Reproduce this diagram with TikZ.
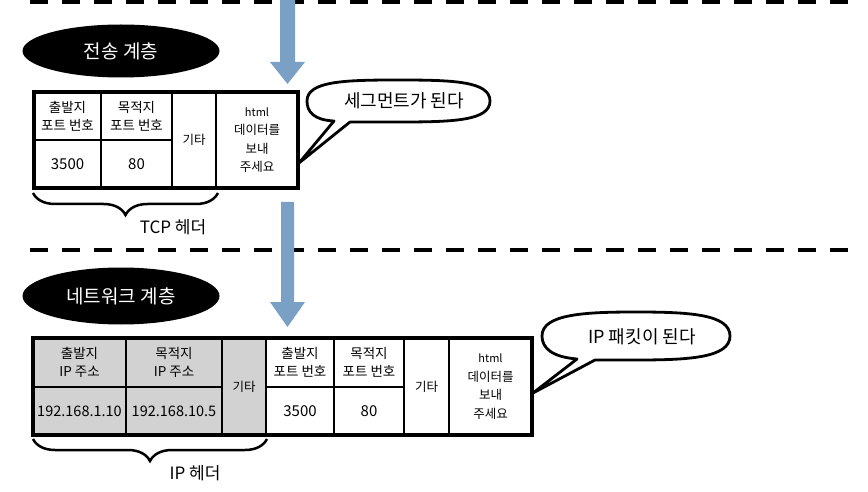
\documentclass[tikz,border=0pt]{standalone}
\usepackage{fontspec}
\setmainfont{Noto Sans CJK KR}
\usetikzlibrary{shapes.geometric,decorations.pathreplacing}
\definecolor{arrowblue}{RGB}{122,160,198}
\definecolor{cellgray}{RGB}{210,210,210}
\newcommand\cellfnt{\fontsize{13.5}{18}\selectfont}
\newcommand\numfnt{\fontsize{15}{18}\selectfont}
\newcommand\ipfnt{\fontsize{14.5}{18}\selectfont}
\newcommand\htmlfnt{\fontsize{12.5}{18.5}\selectfont}
\begin{document}
\begin{tikzpicture}[x=1pt,y=-1pt,
  every node/.style={inner sep=0pt,outer sep=0pt},
  cellbox/.style={draw,line width=2.5pt,align=center,font=\cellfnt},
  graycell/.style={cellbox,fill=cellgray},
  layer/.style={ellipse,fill=black,text=white,minimum width=197pt,font=\fontsize{19}{19}\selectfont},
  bubble/.style={draw,line width=2.8pt,fill=white,line join=round},
  bubbletext/.style={font=\fontsize{18}{18}\selectfont},
  bluearrow/.style={fill=arrowblue},
  divider/.style={line width=4pt,dash pattern=on 18pt off 14pt},
  hbrace/.style={decorate,decoration={brace,mirror,amplitude=22pt,aspect=0.5},line width=2.5pt},
  caption/.style={font=\fontsize{17}{17}\selectfont}
]
\useasboundingbox (0,0) rectangle (868,492);

% dashed layer dividers
\draw[divider] (30,2) -- (852,2);
\draw[divider] (30,250) -- (852,250);

% arrows
\fill[bluearrow] (280,-2) -- (295,-2) -- (295,62) -- (305,62) -- (287.5,84) -- (270,62) -- (280,62) -- cycle;
\fill[bluearrow] (281,202) -- (294,202) -- (294,302) -- (305,302) -- (287.5,327) -- (270,302) -- (281,302) -- cycle;

% layer labels
\node[layer,minimum height=53pt] (L1) at (121,51) {전송 계층};
\node[layer,minimum height=57pt] (L2) at (121,296) {네트워크 계층};

% TCP segment
\node[cellbox,minimum width=67,minimum height=48] (a1) at (67.5,116) {출발지\\포트 번호};
\node[cellbox,minimum width=71,minimum height=48] (a2) at (136.5,116) {목적지\\포트 번호};
\node[cellbox,font=\numfnt,minimum width=67,minimum height=48] (a3) at (67.5,164) {3500};
\node[cellbox,font=\numfnt,minimum width=71,minimum height=48] (a4) at (136.5,164) {80};
\node[cellbox,font=\htmlfnt,minimum width=44,minimum height=96] (a5) at (194,140) {기타};
\node[cellbox,font=\htmlfnt,minimum width=82,minimum height=96] (a6) at (257,140) {{\fontsize{11}{18.5}\selectfont html}\\데이터를\\보내\\주세요};
\draw[line width=3.2pt] (a1.north west) rectangle (a6.south east);

% TCP brace
\coordinate (tb1) at (33,193);
\coordinate (tb2) at (218,193);
\draw[hbrace] (tb1) -- (tb2);
\node[caption] (h1) at (173,227) {TCP 헤더};

% bubble 1
\draw[bubble] (307,101) .. controls (307,81) and (345,80) .. (398,80)
  .. controls (452,80) and (490,81) .. (490,101)
  .. controls (490,121) and (452,122) .. (398,122)
  -- (350,122) -- (299,163) -- (334,121)
  .. controls (314,120) and (307,112) .. (307,101) -- cycle;
\node[bubbletext] (s1) at (404,101) {세그먼트가 된다};

% IP packet
\node[graycell,minimum width=93,minimum height=49] (b1) at (79.5,362.5) {출발지\\IP 주소};
\node[graycell,minimum width=96,minimum height=49] (b2) at (174,362.5) {목적지\\IP 주소};
\node[graycell,font=\ipfnt,minimum width=93,minimum height=48] (b3) at (79.5,411) {192.168.1.10};
\node[graycell,font=\ipfnt,minimum width=96,minimum height=48] (b4) at (174,411) {192.168.10.5};
\node[graycell,font=\htmlfnt,minimum width=44,minimum height=97] (b5) at (244,386.5) {기타};
\node[cellbox,minimum width=68,minimum height=49] (b6) at (300,362.5) {출발지\\포트 번호};
\node[cellbox,minimum width=70,minimum height=49] (b7) at (369,362.5) {목적지\\포트 번호};
\node[cellbox,font=\numfnt,minimum width=68,minimum height=48] (b8) at (300,411) {3500};
\node[cellbox,font=\numfnt,minimum width=70,minimum height=48] (b9) at (369,411) {80};
\node[cellbox,font=\htmlfnt,minimum width=45,minimum height=97] (b10) at (426.5,386.5) {기타};
\node[cellbox,font=\htmlfnt,minimum width=83,minimum height=97] (b11) at (490.5,386.5) {{\fontsize{11}{18.5}\selectfont html}\\데이터를\\보내\\주세요};
\draw[line width=3.2pt] (b1.north west) rectangle (b11.south east);

% IP brace
\coordinate (ib1) at (33,439);
\coordinate (ib2) at (267,439);
\draw[hbrace] (ib1) -- (ib2);
\node[caption] (h2) at (195,473) {IP 헤더};

% bubble 2
\draw[bubble] (542,336) .. controls (542,314) and (585,312) .. (636,312)
  .. controls (688,312) and (730,314) .. (730,336)
  .. controls (730,358) and (688,360) .. (636,360)
  -- (595,360) -- (533,393) -- (577,359)
  .. controls (552,357) and (542,348) .. (542,336) -- cycle;
\node[bubbletext] (s2) at (642,337) {IP 패킷이 된다};
\end{tikzpicture}
\end{document}
